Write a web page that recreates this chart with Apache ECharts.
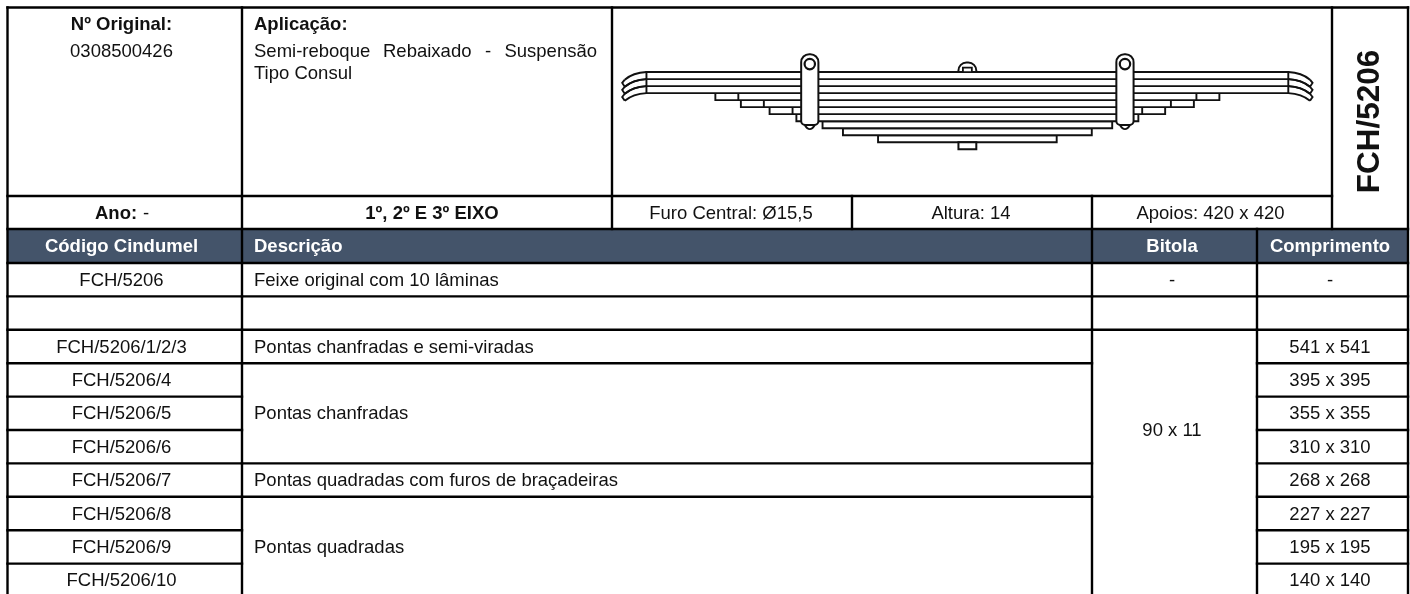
<!DOCTYPE html>
<html><head><meta charset="utf-8">
<style>html,body{margin:0;padding:0;background:#fff}#c{width:1410px;height:594px}</style>
<script src="https://cdn.jsdelivr.net/npm/echarts@6/dist/echarts.min.js"></script>
</head><body><div id="c"></div>
<script>
// ---- values ----
const codes = ['FCH/5206','','FCH/5206/1/2/3','FCH/5206/4','FCH/5206/5','FCH/5206/6','FCH/5206/7','FCH/5206/8','FCH/5206/9','FCH/5206/10'];
const comprimento = ['-','','541 x 541','395 x 395','355 x 355','310 x 310','268 x 268','227 x 227','195 x 195','140 x 140'];
const bitola = ['-','','90 x 11'];
const descriptions = ['Feixe original com 10 lâminas','Pontas chanfradas e semi-viradas','Pontas chanfradas','Pontas quadradas com furos de braçadeiras','Pontas quadradas'];
const headers = ['Código Cindumel','Descrição','Bitola','Comprimento'];
const applicationWords = ['Semi-reboque','Rebaixado','-','Suspensão'];
const leafHalfLengths = [541,541,541,395,355,310,268,227,195,140]; // mm
const leafThickness = 11; // mm

// ---- layout (pixels on a full-canvas value axis) ----
const L=7.5, C1=242, C2=612, C3=852, C4=1092, C5=1257, C6=1332, R=1408;
const T=7.5, H1=196, H2=229, H3=263;
const rowY = i => H3 + 33.4*i;           // top edge of body row i
const midY = i => rowY(i) + 16.7 + 1;
const rules = [
  [L,T,R,T],[L,H1,C6,H1],[L,H2,R,H2],[L,H3,R,H3],
  [L,T,L,594],[R,T,R,594],[C1,T,C1,594],[C2,T,C2,H2],[C3,H1,C3,H2],[C6,T,C6,H2],[C4,H1,C4,594],[C5,H2,C5,594]
];
// row borders: code & length columns all, description only some, gauge only first two
for(let i=1;i<10;i++){
  rules.push([L,rowY(i),C1,rowY(i)]);
  rules.push([C5,rowY(i),R,rowY(i)]);
  if([1,2,3,6,7].includes(i)) rules.push([C1,rowY(i),C4,rowY(i)]);
  if(i<=2) rules.push([C4,rowY(i),C5,rowY(i)]);
}
const F='"Liberation Sans",Arial,sans-serif', S=18.5;
const CC1=121.5, CB=1172, CL=1330;
const texts = [
  {x:CC1,y:25,t:'Nº Original:',b:1,a:'center'},
  {x:CC1,y:52,t:'0308500426',a:'center'},
  {x:254,y:25,t:'Aplicação:',b:1},
  {x:254,y:52,t:applicationWords[0]},
  {x:383,y:52,t:applicationWords[1]},
  {x:485,y:52,t:applicationWords[2]},
  {x:597,y:52,t:applicationWords[3],a:'right'},
  {x:254,y:74,t:'Tipo Consul'},
  {x:95,y:214,t:'Ano:',b:1},
  {x:143,y:214,t:'-'},
  {x:432,y:214,t:'1º, 2º E 3º EIXO',b:1,a:'center'},
  {x:731,y:214,t:'Furo Central: Ø15,5',a:'center'},
  {x:971,y:214,t:'Altura: 14',a:'center'},
  {x:1210.5,y:214,t:'Apoios: 420 x 420',a:'center'},
  {x:CC1,y:247,t:headers[0],b:1,a:'center',c:'#fff'},
  {x:254,y:247,t:headers[1],b:1,c:'#fff'},
  {x:CB,y:247,t:headers[2],b:1,a:'center',c:'#fff'},
  {x:CL,y:247,t:headers[3],b:1,a:'center',c:'#fff'},
  {x:254,y:midY(0),t:descriptions[0]},
  {x:254,y:midY(2),t:descriptions[1]},
  {x:254,y:midY(4),t:descriptions[2]},
  {x:254,y:midY(6),t:descriptions[3]},
  {x:254,y:midY(8),t:descriptions[4]},
  {x:CB,y:midY(0),t:bitola[0],a:'center'},
  {x:CB,y:midY(5)-16.7,t:bitola[2],a:'center'},
  {x:1370,y:121.5,t:'FCH/5206',b:1,a:'center',rot:1,s:31.5}
];
codes.forEach((t,i)=>{ if(t) texts.push({x:CC1,y:midY(i),t,a:'center'}); });
comprimento.forEach((t,i)=>{ if(t) texts.push({x:CL,y:midY(i),t,a:'center'}); });

const INK='#111';
const option = {
  animation:false,
  backgroundColor:'#fff',
  grid:[
    {left:0,top:0,width:1410,height:594,show:false},
    {left:612,top:7,width:720,height:189,show:false}
  ],
  xAxis:[
    {gridIndex:0,type:'value',min:0,max:1410,show:false},
    {gridIndex:1,type:'value',min:-557,max:571.5,show:false}
  ],
  yAxis:[
    {gridIndex:0,type:'value',min:0,max:594,inverse:true,show:false},
    {gridIndex:1,type:'value',min:-102,max:194.3,inverse:true,show:false}
  ],
  series:[
    { // header band
      type:'custom',xAxisIndex:0,yAxisIndex:0,silent:true,z:1,
      data:[[L,H2,R,H3]],
      renderItem(p,api){
        const a=api.coord([api.value(0),api.value(1)]),b=api.coord([api.value(2),api.value(3)]);
        return {type:'rect',shape:{x:a[0],y:a[1],width:b[0]-a[0],height:b[1]-a[1]},style:{fill:'#44546a'}};
      }
    },
    { // table rules
      type:'custom',xAxisIndex:0,yAxisIndex:0,silent:true,z:2,
      data:rules,
      renderItem(p,api){
        const a=api.coord([api.value(0),api.value(1)]),b=api.coord([api.value(2),api.value(3)]);
        return {type:'line',shape:{x1:a[0],y1:a[1],x2:b[0],y2:b[1]},style:{stroke:'#000',lineWidth:2.4,lineCap:'square'}};
      }
    },
    { // leaves of the spring, bottom one first
      type:'custom',xAxisIndex:1,yAxisIndex:1,silent:true,z:3,
      data:leafHalfLengths.map((v,i)=>[v,i*leafThickness,(i+1)*leafThickness]).reverse(),
      renderItem(p,api){
        const len=api.value(0),y0=api.value(1),y1=api.value(2);
        const st={stroke:INK,lineWidth:1.9,fill:null};
        const kids=[];
        const flat=len>500?503:len;
        const a=api.coord([-flat,y0]),b=api.coord([flat,y1]);
        kids.push({type:'rect',shape:{x:a[0],y:a[1],width:b[0]-a[0],height:b[1]-a[1]},style:{stroke:INK,lineWidth:1.9,fill:'#fff'}});
        if(len>500){
          [-1,1].forEach(s=>{
            const P=(x,y)=>api.coord([s*x,y]);
            const curve=(yy,endX,dy)=>{
              const q0=P(503,yy),c=P(524,yy+1),q1=P(endX,yy+dy);
              return {type:'bezierCurve',shape:{x1:q0[0],y1:q0[1],x2:q1[0],y2:q1[1],cpx1:c[0],cpy1:c[1]},style:st};
            };
            kids.push(curve(y0,537,12));
            kids.push(curve(y1,537,12));
            const e0=P(537,y0+12),e1=P(541,y0+17),e2=P(537,y1+12);
            kids.push({type:'polyline',shape:{points:[e0,e1,e2]},style:st});
          });
        }else if(len>300){
          [-1,1].forEach(s=>{
            const q0=api.coord([s*(len-36),y0]),q1=api.coord([s*(len-36),y1]);
            kids.push({type:'line',shape:{x1:q0[0],y1:q0[1],x2:q1[0],y2:q1[1]},style:st});
          });
        }
        return {type:'group',children:kids};
      }
    },
    { // U-bolt clips
      type:'custom',xAxisIndex:1,yAxisIndex:1,silent:true,z:4,
      data:[[-247],[247]],
      renderItem(p,api){
        const cx=api.value(0);
        const a=api.coord([cx-13.5,-28]),b=api.coord([cx+13.5,83]);
        const c=api.coord([cx,-12.5]);
        const d0=api.coord([cx-8,83]),d1=api.coord([cx+8,83]),dc=api.coord([cx,96]);
        return {type:'group',children:[
          {type:'bezierCurve',shape:{x1:d0[0],y1:d0[1],x2:d1[0],y2:d1[1],cpx1:dc[0],cpy1:dc[1]},style:{stroke:INK,lineWidth:1.9,fill:'#fff'}},
          {type:'rect',shape:{x:a[0],y:a[1],width:b[0]-a[0],height:b[1]-a[1],r:[8,8,4,4]},style:{stroke:INK,lineWidth:2,fill:'#fff'}},
          {type:'circle',shape:{cx:c[0],cy:c[1],r:5.2},style:{stroke:INK,lineWidth:2.2,fill:'#fff'}}
        ]};
      }
    },
    { // centre bolt
      type:'custom',xAxisIndex:1,yAxisIndex:1,silent:true,z:4,
      data:[[0]],
      renderItem(p,api){
        const t0=api.coord([-14,-15]),t1=api.coord([14,0]);
        const b0=api.coord([-14,110]),b1=api.coord([14,121]);
        const i0=api.coord([-7,-7]),i1=api.coord([7,0]);
        const st={stroke:INK,lineWidth:2,fill:'#fff'};
        return {type:'group',children:[
          {type:'rect',shape:{x:t0[0],y:t0[1],width:t1[0]-t0[0],height:t1[1]-t0[1],r:[8,8,0,0]},style:st},
          {type:'rect',shape:{x:i0[0],y:i0[1],width:i1[0]-i0[0],height:i1[1]-i0[1]},style:{stroke:INK,lineWidth:1.8,fill:'#fff'}},
          {type:'rect',shape:{x:b0[0],y:b0[1],width:b1[0]-b0[0],height:b1[1]-b0[1]},style:st}
        ]};
      }
    },
    { // all table text
      type:'custom',xAxisIndex:0,yAxisIndex:0,silent:true,z:5,
      data:texts.map(o=>[o.x,o.y]),
      renderItem(p,api){
        const o=texts[p.dataIndex],c=api.coord([api.value(0),api.value(1)]);
        const font=(o.b?'bold ':'')+(o.s||S)+'px '+F;
        const el={type:'text',style:{x:0,y:0,text:o.t,fill:o.c||'#111',font,align:o.a||'left',verticalAlign:'middle'},x:c[0],y:c[1]};
        if(o.rot) el.rotation=Math.PI/2;
        return el;
      }
    }
  ]
};
const chart=echarts.init(document.getElementById('c'),null,{renderer:'canvas'});
chart.setOption(option);
</script>
</body></html>
